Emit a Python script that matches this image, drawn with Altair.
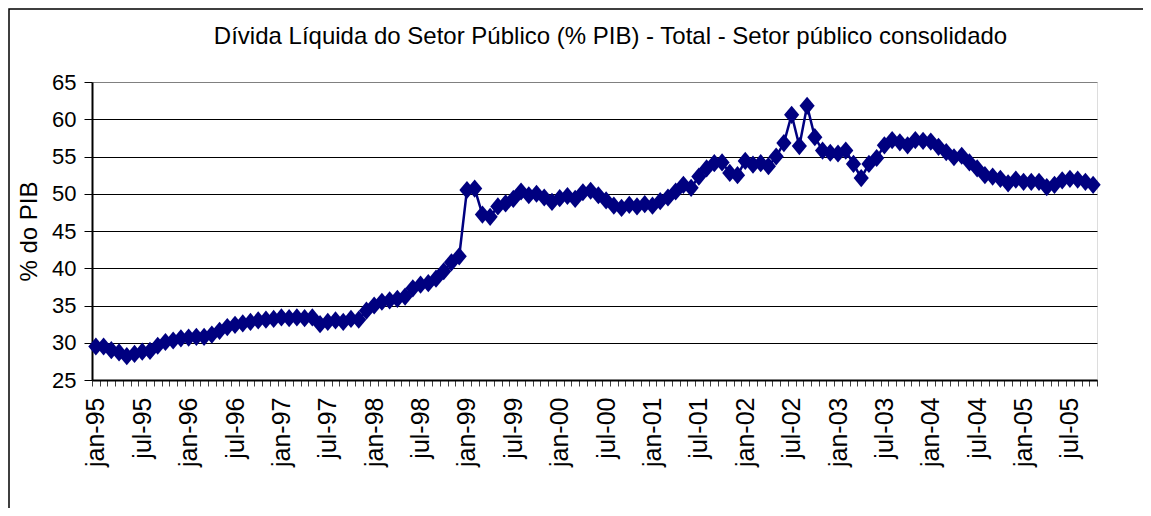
import altair as alt
import pandas as pd

FONT = "Liberation Sans"

meses = ["jan", "fev", "mar", "abr", "mai", "jun", "jul", "ago", "set", "out", "nov", "dez"]
anos = ["95", "96", "97", "98", "99", "00", "01", "02", "03", "04", "05"]

divida = [
    29.5, 29.5, 29.0, 28.7, 28.2, 28.5, 28.8, 28.9, 29.6, 30.1, 30.3, 30.6,
    30.7, 30.8, 30.8, 31.1, 31.6, 32.1, 32.4, 32.6, 32.8, 33.0, 33.1, 33.2,
    33.4, 33.3, 33.4, 33.3, 33.4, 32.5, 32.8, 33.0, 32.8, 33.2, 33.1, 34.3,
    35.0, 35.5, 35.7, 35.9, 36.2, 37.3, 37.8, 38.0, 38.6, 39.6, 40.8, 41.6,
    50.5, 50.7, 47.2, 46.9, 48.3, 48.7, 49.3, 50.3, 49.8, 50.0, 49.5, 48.9,
    49.4, 49.7, 49.3, 50.2, 50.4, 49.8, 49.1, 48.4, 48.1, 48.5, 48.3, 48.6,
    48.4, 49.0, 49.5, 50.3, 51.2, 50.8, 52.3, 53.4, 54.1, 54.2, 52.8, 52.5,
    54.4, 53.9, 54.1, 53.7, 55.0, 56.8, 60.6, 56.4, 61.8, 57.6, 55.8, 55.5,
    55.4, 55.8, 54.0, 52.1, 54.0, 54.8, 56.5, 57.2, 56.9, 56.5, 57.2, 57.1,
    57.0, 56.3, 55.6, 54.9, 55.1, 54.2, 53.4, 52.5, 52.3, 52.0, 51.4, 51.9,
    51.6, 51.6, 51.6, 50.9, 51.2, 51.8, 52.0, 51.9, 51.6, 51.2,
]

y_ticks = [25, 30, 35, 40, 45, 50, 55, 60, 65]

periodos = [f"{m}-{a}" for a in anos for m in meses][: len(divida)]
df = pd.DataFrame({"periodo": periodos, "divida": divida})

titulo = "Dívida Líquida do Setor Público (% PIB) - Total - Setor público consolidado"

diamond = "M-1,0L0,-1.2L1,0L0,1.2Z"

x_enc = alt.X(
    "periodo:O",
    sort=None,
    scale=alt.Scale(type="band", paddingInner=0, paddingOuter=0),
    axis=alt.Axis(
        title=None,
        labelAngle=-90,
        labelExpr="(slice(datum.label,0,3)=='jan' || slice(datum.label,0,3)=='jul') ? datum.label : ''",
        labelOverlap=False,
        labelBound=False,
        labelFont=FONT,
        labelFontSize=25,
        labelColor="black",
        labelPadding=11,
        tickBand="extent",
        tickSize=6,
        tickColor="#404040",
        tickWidth=1,
        domainColor="black",
        domainWidth=2,
        grid=False,
    ),
)

y_enc = alt.Y(
    "divida:Q",
    scale=alt.Scale(domain=[25, 65], nice=False, zero=False),
    axis=alt.Axis(
        values=y_ticks,
        title="% do PIB",
        titleFont=FONT,
        titleFontSize=24,
        titleFontWeight="normal",
        titleColor="black",
        titlePadding=10,
        labelFont=FONT,
        labelFontSize=22,
        labelColor="black",
        labelPadding=8,
        tickSize=8,
        tickColor="black",
        tickWidth=1,
        domainColor="black",
        domainWidth=2,
        grid=True,
        gridColor={"condition": {"test": "datum.value === 65", "value": "#808080"}, "value": "black"},
        gridWidth=1,
        gridOpacity=1,
    ),
)

line = alt.Chart(df).mark_line(
    color="#000080",
    strokeWidth=2.5,
    point=alt.OverlayMarkDef(shape=diamond, size=230, filled=True, color="#000080", opacity=1),
).encode(x=x_enc, y=y_enc)

border = alt.Chart(alt.Data(values=[{}])).mark_rect(
    fillOpacity=0, stroke="black", strokeWidth=1.5, clip=False
).encode(
    x=alt.value(-83),
    x2=alt.value(1300),
    y=alt.value(-73),
    y2=alt.value(700),
)

chart = (
    alt.layer(border, line)
    .properties(
        width=1005,
        height=298,
        padding={"left": 84, "top": 74, "right": 46, "bottom": 128},
        autosize=alt.AutoSizeParams(type="none"),
        title=alt.Title(
            titulo,
            font=FONT,
            fontSize=24,
            fontWeight="normal",
            color="black",
            anchor="middle",
            dx=16,
            dy=41,
            offset=0,
        ),
    )
    .configure_view(fill="#C0C0C0", stroke="#808080", strokeWidth=2)
    .configure(background="white")
)

chart.save("out.html", embed_options={"renderer": "svg", "actions": False})
